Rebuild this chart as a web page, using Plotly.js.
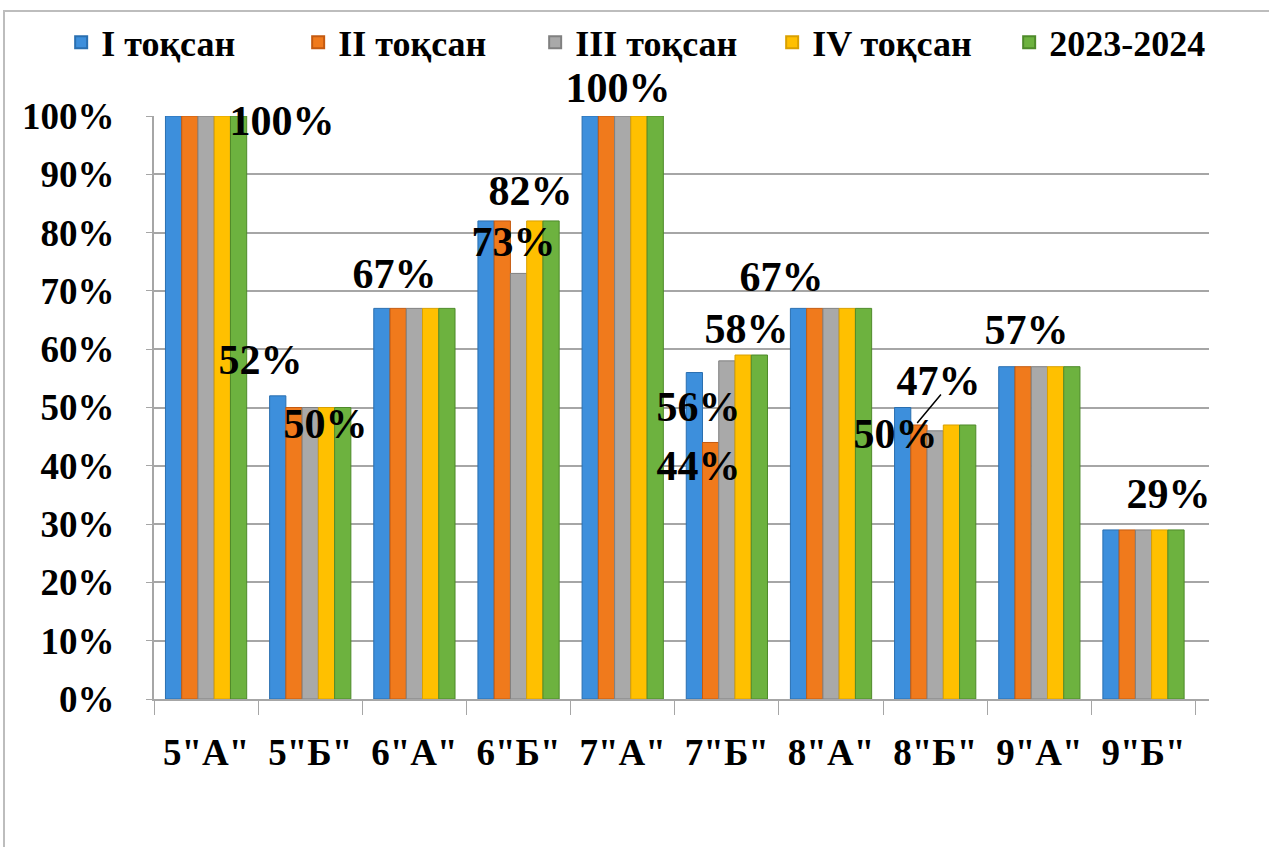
<!DOCTYPE html>
<html>
<head>
<meta charset="utf-8">
<script src="https://cdn.plot.ly/plotly-3.0.1.min.js"></script>
<style>
html,body{margin:0;padding:0;background:#fff;overflow:hidden;}
#frame{position:absolute;left:3px;top:10px;width:1300px;height:900px;border:2px solid #bdbdbd;box-sizing:border-box;pointer-events:none;}
#chart{position:absolute;left:0;top:0;width:1269px;height:847px;}
#chart text{font-family:'Liberation Serif','Times New Roman',serif !important;font-weight:bold !important;}
</style>
</head>
<body>
<div id="chart"></div>
<div id="frame"></div>
<script>
// ---- data ----
const categories = ['5"А"', '5"Б"', '6"А"', '6"Б"', '7"А"', '7"Б"', '8"А"', '8"Б"', '9"А"', '9"Б"'];
const seriesNames = ['I тоқсан', 'II тоқсан', 'III тоқсан', 'IV тоқсан', '2023-2024'];
const q1   = [100, 52, 67, 82, 100, 56, 67, 50, 57, 29];
const q2   = [100, 50, 67, 82, 100, 44, 67, 47, 57, 29];
const q3   = [100, 50, 67, 73, 100, 58, 67, 46, 57, 29];
const q4   = [100, 50, 67, 82, 100, 59, 67, 47, 57, 29];
const year = [100, 50, 67, 82, 100, 59, 67, 47, 57, 29];
const yTickVals = [0, 10, 20, 30, 40, 50, 60, 70, 80, 90, 100];
const yTickText = ['0%', '10%', '20%', '30%', '40%', '50%', '60%', '70%', '80%', '90%', '100%'];
// data labels shown: [series index, category index]
const labelSeries = [4, 0, 4, 4, 4, 2, 4, 2, 0, 1, 4, 4, 0, 4, 4];
const labelCats   = [0, 1, 1, 2, 3, 3, 4, 5, 5, 5, 6, 7, 7, 8, 9];

// ---- styling ----
const colors = ['#3d8fdc', '#f07a1c', '#a9a9a9', '#ffc000', '#6db23f'];
const lineColors = ['#2a6fb0', '#c45a10', '#808080', '#d9a000', '#4e8a2a'];
const labelShift = [[76,-5],[-50,36],[15,-16],[-20,34],[12,30],[-5,31],[-5,28],[20,32],[-28,-34],[-28,-24],[-50,31],[3,44],[-40,-26],[-13,37],[25,36]];

const allSeries = [q1, q2, q3, q4, year];
const serif = 'Liberation Serif';

const traces = allSeries.map((vals, i) => ({
  type: 'bar',
  name: seriesNames[i],
  x: categories,
  y: vals,
  marker: {color: colors[i], line: {color: lineColors[i], width: 1}},
  hoverinfo: 'x+y+name'
}));

const annotations = labelSeries.map((s, j) => ({
  x: categories[labelCats[j]],
  y: allSeries[s][labelCats[j]],
  xref: 'x', yref: 'y',
  text: allSeries[s][labelCats[j]] + '%',
  showarrow: false,
  xanchor: 'center', yanchor: 'middle',
  xshift: labelShift[j][0], yshift: labelShift[j][1],
  font: {family: serif, size: 42, color: '#000'}
}));
// leader line for 8"Б" 47% label
annotations.push({
  x: categories[7], y: q2[7], xref: 'x', yref: 'y',
  ax: 25, ay: -30, axref: 'pixel', ayref: 'pixel',
  text: '', showarrow: true, arrowhead: 0, arrowwidth: 1.5, arrowcolor: '#000',
  xshift: -18, yshift: 2
});

const layout = {
  width: 1269, height: 847,
  paper_bgcolor: '#ffffff', plot_bgcolor: '#ffffff',
  margin: {l: 154, r: 60, t: 113, b: 148},
  barmode: 'group', bargap: 0.22, bargroupgap: 0,
  showlegend: true,
  font: {family: serif, color: '#000'},
  legend: {
    orientation: 'h', xref: 'paper', yref: 'paper',
    x: -0.088, y: 1.178, xanchor: 'left', yanchor: 'top',
    entrywidth: 192, entrywidthmode: 'pixels',
    font: {family: serif, size: 36, color: '#000'},
    itemsizing: 'constant', traceorder: 'normal', itemwidth: 30
  },
  xaxis: {
    type: 'category', categoryorder: 'array', categoryarray: categories,
    showline: true, linecolor: '#a6a6a6', linewidth: 2,
    ticks: 'outside', tickson: 'boundaries', ticklen: 14, tickcolor: '#a6a6a6', tickwidth: 1,
    ticklabelstandoff: 20,
    tickfont: {family: serif, size: 37, color: '#000'},
    showgrid: false, fixedrange: true
  },
  yaxis: {
    range: [0, 100], tickvals: yTickVals, ticktext: yTickText,
    showgrid: true, gridcolor: '#a6a6a6', gridwidth: 2,
    showline: true, linecolor: '#a6a6a6', linewidth: 2,
    ticks: 'outside', ticklen: 6, tickcolor: '#a6a6a6',
    ticklabelstandoff: 24,
    tickfont: {family: serif, size: 37, color: '#000'},
    zeroline: false, fixedrange: true
  },
  annotations: annotations
};

Plotly.newPlot('chart', traces, layout, {displayModeBar: false, staticPlot: true});
</script>
</body>
</html>
